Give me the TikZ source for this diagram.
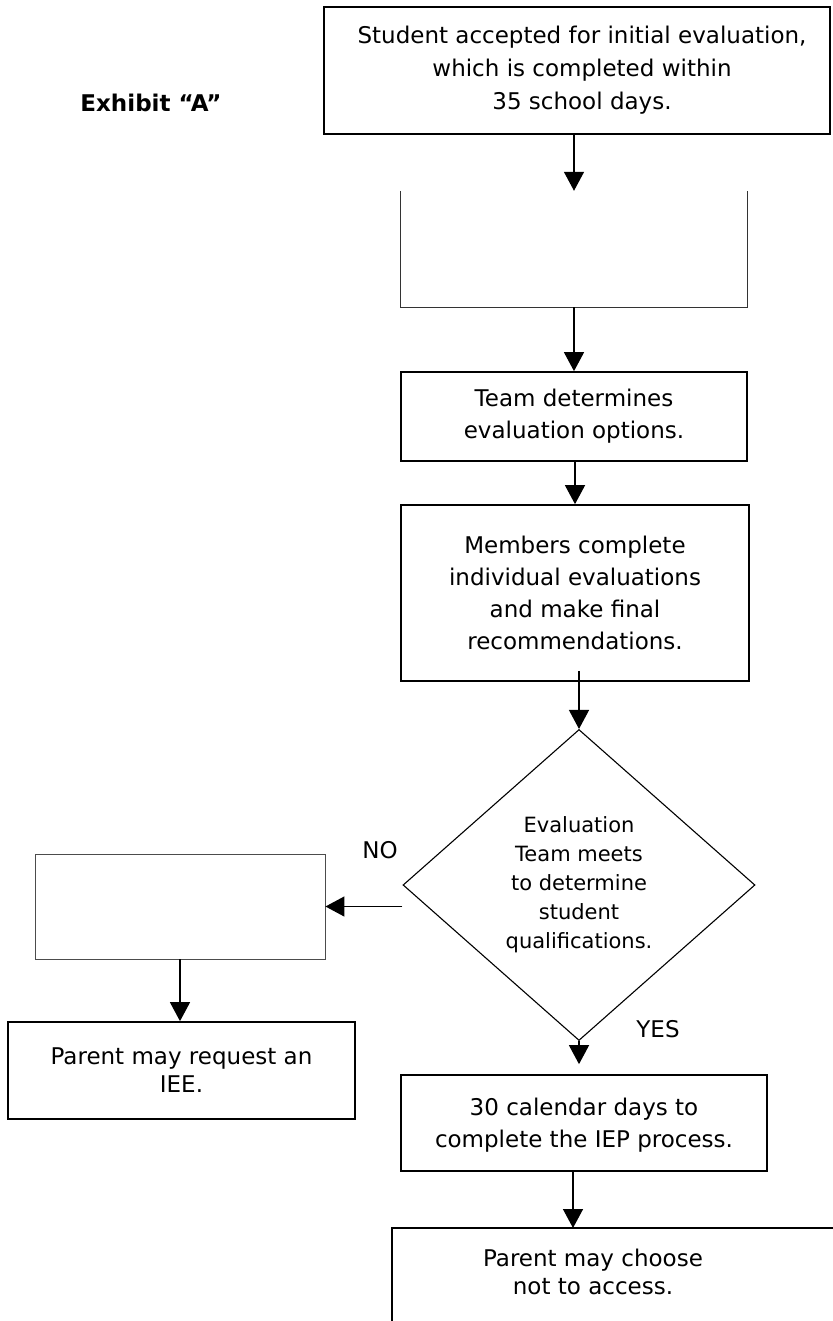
\documentclass[tikz,border=0pt]{standalone}
\usepackage{fontspec}
\setmainfont{DejaVu Sans}
\usetikzlibrary{shapes.geometric,arrows.meta}

\begin{document}
\begin{tikzpicture}[x=1pt,y=-1pt]

\tikzstyle{stepbox}=[draw,line width=1.7pt,rectangle,align=center,inner sep=0pt,font=\fontsize{23}{32}\selectfont]
\tikzstyle{emptybox}=[draw=black!70,line width=0.9pt,rectangle,inner sep=0pt]
\tikzstyle{decision}=[draw,line width=1.1pt,diamond,align=center,inner sep=0pt,font=\fontsize{21}{29}\selectfont]
\tikzstyle{arr}=[line width=1.4pt,-{Triangle[width=20pt,length=19pt]}]
\tikzstyle{lbl}=[inner sep=0pt,font=\fontsize{23}{28}\selectfont]

\useasboundingbox (0,0) rectangle (832,1321);

\node[inner sep=0pt,font=\fontsize{23}{28}\selectfont\bfseries] (title) at (151,103) {Exhibit “A”};

% column
\node[stepbox,minimum width=506pt,minimum height=127pt,font=\fontsize{23}{33}\selectfont] (accept) at (577,70.5)
  {\hspace*{10pt}Student accepted for initial evaluation,\\\hspace*{10pt}which is completed within\\\hspace*{10pt}35 school days.};
\node[minimum width=346pt,minimum height=116pt,inner sep=0pt] (blank) at (574,249) {};
\draw[black!80,line width=0.9pt] (blank.north west) -- (blank.south west) -- (blank.south east) -- (blank.north east);
\node[stepbox,minimum width=346pt,minimum height=89pt] (options) at (574,416.5)
  {Team determines\\evaluation options.};
\node[stepbox,minimum width=348pt,minimum height=176pt] (members) at (575,593)
  {Members complete\\individual evaluations\\and make final\\recommendations.};
\node[decision,minimum width=352pt,minimum height=311pt] (meet) at (579,885)
  {Evaluation\\Team meets\\to determine\\student\\qualifications.};
\node[stepbox,minimum width=366pt,minimum height=96pt,text depth=-6pt] (iep) at (584,1123)
  {30 calendar days to\\complete the IEP process.};
\coordinate (accesstop) at (392,1228);
\node[inner sep=0pt,align=center,font=\fontsize{23}{28}\selectfont] (access) at (593,1271.5)
  {Parent may choose\\not to access.};
\draw[line width=1.7pt] (accesstop) ++(0,112) |- (850,1228);

% left side
\node[emptybox,minimum width=290pt,minimum height=105pt] (noblank) at (180,906.5) {};
\node[stepbox,minimum width=347pt,minimum height=97pt,font=\fontsize{23}{28}\selectfont] (iee) at (181.5,1070.5)
  {Parent may request an\\IEE.};

\node[lbl] (no) at (380,850) {NO};
\node[lbl] (yes) at (658,1029) {YES};

% arrows
\draw[arr] (accept.south -| blank.north) -- (blank.north);
\draw[arr] (blank.south) -- (options.north);
\draw[arr] (options.south -| members.north) -- (members.north);
\draw[arr] ([yshift=11pt]members.south -| meet.north) -- (meet.north);
\draw[arr] (meet.south) -- ([yshift=10pt]iep.north -| meet.south);
\draw[arr] ([xshift=-11pt]iep.south) -- ([xshift=-11pt]iep.south |- accesstop);
\draw[arr] (meet.west |- noblank.east) -- (noblank.east);
\draw[arr] (noblank.south) -- (noblank.south |- iee.north);

\end{tikzpicture}
\end{document}
